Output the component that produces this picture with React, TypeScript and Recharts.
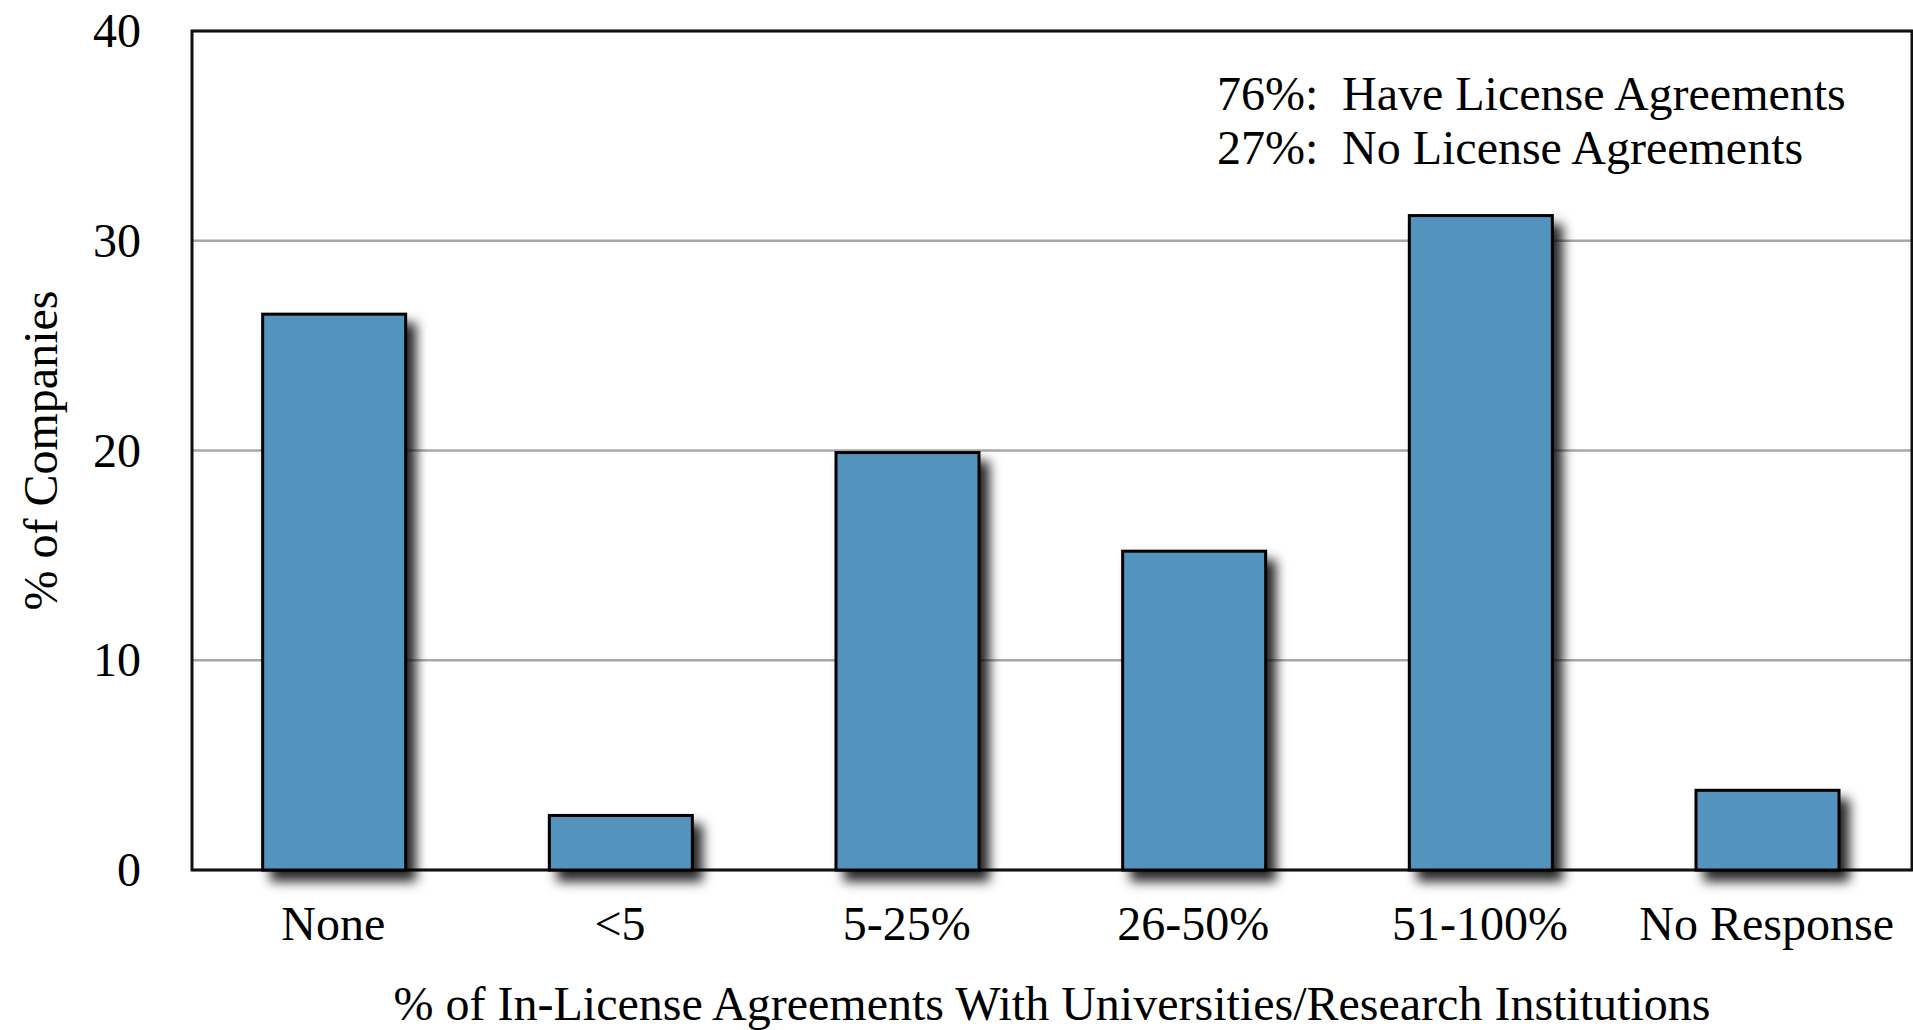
import React from 'react';
import {
  BarChart,
  Bar,
  XAxis,
  YAxis,
  CartesianGrid,
  ReferenceArea,
  Customized,
} from 'recharts';

// ---- data ----
const categories = ['None', '<5', '5-25%', '26-50%', '51-100%', 'No Response'];
const companyShares = [26.5, 2.6, 19.9, 15.2, 31.2, 3.8];
const yTicks = [0, 10, 20, 30, 40];
const annotationPcts = ['76%:', '27%:'];
const annotationTexts = ['Have License Agreements', 'No License Agreements'];
const X_TITLE = '% of In-License Agreements With Universities/Research Institutions';
const Y_TITLE = '% of Companies';

const data = categories.map((c, i) => ({ category: c, value: companyShares[i] }));

const FONT = '"Liberation Serif", "Times New Roman", Times, serif';
const FS = 48;
const BAR_FILL = '#5493bf';

const XTick = (props: any) => {
  const { x, y, payload } = props;
  return (
    <text x={x - 2} y={y + 70} textAnchor="middle" fontFamily={FONT} fontSize={FS} fill="#000">
      {payload.value}
    </text>
  );
};

const YTick = (props: any) => {
  const { x, y, payload } = props;
  return (
    <text x={x - 51} y={y + 16} textAnchor="end" fontFamily={FONT} fontSize={FS} fill="#000">
      {payload.value}
    </text>
  );
};

const XTitle = (props: any) => {
  const { viewBox, value } = props;
  return (
    <text
      x={viewBox.x + viewBox.width / 2}
      y={viewBox.y + 150}
      textAnchor="middle"
      fontFamily={FONT}
      fontSize={FS}
      fill="#000"
    >
      {value}
    </text>
  );
};

const YTitle = (props: any) => {
  const { viewBox, value } = props;
  const cx = 57;
  const cy = viewBox.y + viewBox.height / 2;
  return (
    <text
      x={cx}
      y={cy}
      textAnchor="middle"
      transform={`rotate(-90, ${cx}, ${cy})`}
      fontFamily={FONT}
      fontSize={FS}
      fill="#000"
    >
      {value}
    </text>
  );
};

const ShadowBar = (props: any) => {
  const { x, y, width, height } = props;
  if (height == null || height <= 0) return null;
  return (
    <rect
      x={x - 1}
      y={y}
      width={width}
      height={height}
      fill={BAR_FILL}
      stroke="#000"
      strokeWidth={3}
      filter="url(#barShadow)"
    />
  );
};

const Annotation = () => (
  <g>
    {annotationPcts.map((p, i) => (
      <g key={p}>
        <text x={1217} y={110 + i * 54} fontFamily={FONT} fontSize={FS} fill="#000">
          {p}
        </text>
        <text x={1342} y={110 + i * 54} fontFamily={FONT} fontSize={FS} fill="#000">
          {annotationTexts[i]}
        </text>
      </g>
    ))}
  </g>
);

export default function App() {
  return (
    <div style={{ position: 'absolute', left: 0, top: 0, width: 1913, height: 1030, background: '#fff' }}>
      <svg width={0} height={0} style={{ position: 'absolute' }}>
        <defs>
          <filter id="barShadow" filterUnits="userSpaceOnUse" x="0" y="0" width="1913" height="1030">
            <feDropShadow dx="9" dy="10" stdDeviation="6" floodColor="#000" floodOpacity="0.85" />
          </filter>
        </defs>
      </svg>
      <BarChart
        width={1913}
        height={1030}
        data={data}
        margin={{ top: 31, right: 1, bottom: 0, left: 0 }}
        barCategoryGap="25%"
      >
        <CartesianGrid vertical={false} stroke="#a8a8a8" strokeWidth={2.5} />
        <XAxis
          dataKey="category"
          height={160}
          tickSize={0}
          tickMargin={0}
          axisLine={false}
          tickLine={false}
          interval={0}
          tick={<XTick />}
          label={{ value: X_TITLE, content: <XTitle /> }}
        />
        <YAxis
          type="number"
          domain={[0, 40]}
          ticks={yTicks}
          interval={0}
          width={192}
          tickSize={0}
          tickMargin={0}
          axisLine={false}
          tickLine={false}
          tick={<YTick />}
          label={{ value: Y_TITLE, content: <YTitle /> }}
        />
        <Bar dataKey="value" isAnimationActive={false} shape={<ShadowBar />} />
        <ReferenceArea y1={0} y2={40} fill="none" fillOpacity={0} stroke="#111" strokeWidth={3} ifOverflow="visible" />
        <Customized component={<Annotation />} />
      </BarChart>
    </div>
  );
}
